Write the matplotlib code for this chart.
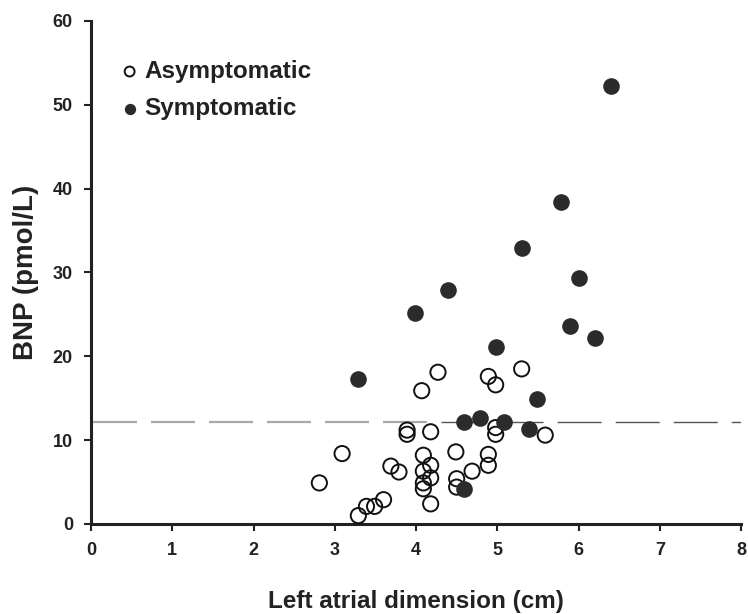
import matplotlib
matplotlib.use("Agg")
import matplotlib.pyplot as plt

# --- data ---
asym_x = [4.27, 4.07, 4.89, 4.98, 5.30, 3.89, 3.89, 4.18, 4.98, 4.98, 5.59,
          3.09, 2.81, 3.69, 3.79, 4.09, 4.18, 4.09, 4.18, 4.09, 4.09, 4.18,
          4.49, 4.69, 4.50, 4.50, 4.89, 4.89, 3.60, 3.49, 3.39, 3.29]
asym_y = [18.1, 15.9, 17.6, 16.6, 18.5, 11.2, 10.7, 11.0, 11.5, 10.7, 10.6,
          8.4, 4.9, 6.9, 6.2, 8.2, 7.0, 6.3, 5.5, 4.9, 4.2, 2.4,
          8.6, 6.3, 5.4, 4.4, 8.3, 7.0, 2.9, 2.1, 2.1, 1.0]

sym_x = [6.40, 5.78, 5.30, 6.01, 4.39, 3.99, 5.90, 6.20, 4.98, 3.29,
         5.49, 4.59, 4.79, 5.08, 5.39, 4.59]
sym_y = [52.2, 38.4, 32.9, 29.3, 27.9, 25.2, 23.6, 22.2, 21.1, 17.3,
         14.9, 12.2, 12.6, 12.2, 11.3, 4.2]

cutoff = 12.2
x_ticks = [0, 1, 2, 3, 4, 5, 6, 7, 8]
y_ticks = [0, 10, 20, 30, 40, 50, 60]

plt.rcParams['font.family'] = ['Liberation Sans', 'DejaVu Sans']
plt.rcParams['font.weight'] = 'bold'

fig = plt.figure(figsize=(7.48, 6.14), dpi=100)
ax = fig.add_axes([0.1217, 0.1466, 0.8690, 0.8192])

# cutoff line: grey long dashes on the left, darker on the right
ax.plot([0.025, 4.13], [cutoff, cutoff], color='#a8a8a8', lw=1.6,
        dashes=(19.8, 6.3), zorder=1)
ax.plot([4.31, 8.0], [cutoff, cutoff], color='#555555', lw=1.0,
        dashes=(31.7, 10.1), zorder=1)

ax.scatter(asym_x, asym_y, s=120, facecolors='none', edgecolors='#111111',
           linewidths=1.4, label='Asymptomatic', zorder=3, clip_on=False)
ax.scatter(sym_x, sym_y, s=120, facecolors='#2b2b2b', edgecolors='#2b2b2b',
           linewidths=1.0, label='Symptomatic', zorder=4, clip_on=False)

ax.set_xlim(0, 8)
ax.set_ylim(0, 60)
ax.set_xticks(x_ticks)
ax.set_yticks(y_ticks)
ax.spines['top'].set_visible(False)
ax.spines['right'].set_visible(False)
for s in ['left', 'bottom']:
    ax.spines[s].set_linewidth(2.2)
    ax.spines[s].set_color('#222222')
ax.tick_params(direction='out', length=5, width=1.5, labelsize=13,
               colors='#222222', pad=8)
for lab in ax.get_xticklabels() + ax.get_yticklabels():
    lab.set_fontweight('bold')

ax.set_xlabel('Left atrial dimension (cm)', fontsize=17.5, fontweight='bold',
              labelpad=22, color='#222222')
ax.set_ylabel('BNP (pmol/L)', fontsize=20, fontweight='bold', labelpad=10,
              color='#222222')

leg = ax.legend(loc='upper left', bbox_to_anchor=(0.022, 0.942), frameon=False,
                fontsize=17.5, handletextpad=0.0, labelspacing=0.6,
                markerscale=0.65, borderaxespad=0, handlelength=1.2)
for t in leg.get_texts():
    t.set_fontweight('bold')
    t.set_color('#222222')

fig.savefig('out.png', dpi=100)
